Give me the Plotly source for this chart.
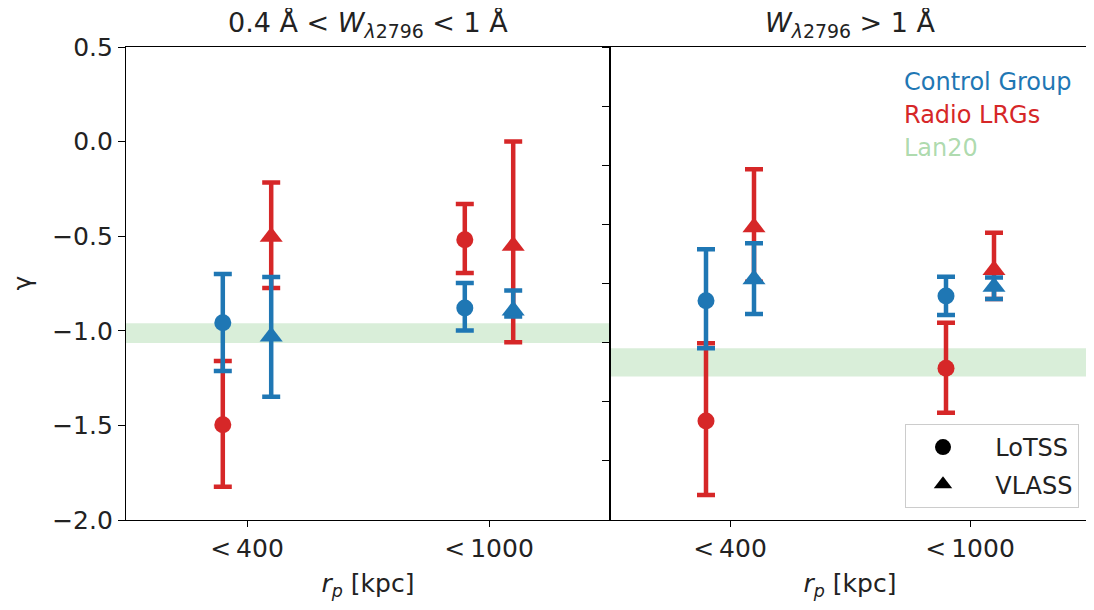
import numpy as np
import plotly.graph_objects as go

# ---------------- data ----------------
categories = ["<\u2009400", "<\u20091000"]  # r_p bins (tick labels)

# Left panel: 0.4 A < W < 1 A  (values, upper end, lower end)
left_ctrl_lotss = [-0.958, -0.880]
left_ctrl_lotss_hi = [-0.700, -0.748]
left_ctrl_lotss_lo = [-1.212, -0.999]
left_ctrl_vlass = [-1.030, -0.893]
left_ctrl_vlass_hi = [-0.716, -0.787]
left_ctrl_vlass_lo = [-1.348, -0.925]
left_radio_lotss = [-1.497, -0.519]
left_radio_lotss_hi = [-1.159, -0.330]
left_radio_lotss_lo = [-1.824, -0.695]
left_radio_vlass = [-0.503, -0.551]
left_radio_vlass_hi = [-0.216, 0.001]
left_radio_vlass_lo = [-0.774, -1.060]
left_lan20 = [-1.065, -0.960]

# Right panel: W > 1 A (own unlabeled y scale)
right_ctrl_lotss = [-0.645, -0.606]
right_ctrl_lotss_hi = [-0.211, -0.442]
right_ctrl_lotss_lo = [-1.048, -0.766]
right_ctrl_vlass = [-0.464, -0.527]
right_ctrl_vlass_hi = [-0.160, -0.450]
right_ctrl_vlass_lo = [-0.758, -0.631]
right_radio_lotss = [-1.663, -1.217]
right_radio_lotss_hi = [-1.006, -0.831]
right_radio_lotss_lo = [-2.289, -1.593]
right_radio_vlass = [-0.025, -0.386]
right_radio_vlass_hi = [0.466, -0.070]
right_radio_vlass_lo = [-0.485, -0.631]
right_lan20 = [-1.286, -1.048]

panel_titles = ["0.4 Å < <i>W</i><sub><i>λ</i>2796</sub> < 1 Å",
                "<i>W</i><sub><i>λ</i>2796</sub> > 1 Å"]

# ---------------- style ----------------
BLUE = "#1f77b4"
RED = "#d62728"
FONT = "DejaVu Sans"
FS = 25
OFFSET = 0.1

fig = go.Figure()
base_x = np.arange(len(categories))


def add_series(val, hi, lo, color, symbol, dx, xa, ya):
    val = np.array(val); hi = np.array(hi); lo = np.array(lo)
    fig.add_trace(go.Scatter(
        x=base_x + dx, y=val, mode="markers", xaxis=xa, yaxis=ya,
        marker=dict(color=color, symbol=symbol,
                    size=17 if symbol == "circle" else 20,
                    line=dict(width=0)),
        error_y=dict(type="data", symmetric=False, array=hi - val,
                     arrayminus=val - lo, color=color, thickness=4.5, width=9),
        showlegend=False, hoverinfo="skip"))


panels = [
    ("x", "y", left_ctrl_lotss, left_ctrl_lotss_hi, left_ctrl_lotss_lo,
     left_ctrl_vlass, left_ctrl_vlass_hi, left_ctrl_vlass_lo,
     left_radio_lotss, left_radio_lotss_hi, left_radio_lotss_lo,
     left_radio_vlass, left_radio_vlass_hi, left_radio_vlass_lo),
    ("x2", "y2", right_ctrl_lotss, right_ctrl_lotss_hi, right_ctrl_lotss_lo,
     right_ctrl_vlass, right_ctrl_vlass_hi, right_ctrl_vlass_lo,
     right_radio_lotss, right_radio_lotss_hi, right_radio_lotss_lo,
     right_radio_vlass, right_radio_vlass_hi, right_radio_vlass_lo),
]
for (xa, ya, cl, clh, cll, cv, cvh, cvl, rl, rlh, rll, rv, rvh, rvl) in panels:
    add_series(rl, rlh, rll, RED, "circle", -OFFSET, xa, ya)
    add_series(rv, rvh, rvl, RED, "triangle-up", OFFSET, xa, ya)
    add_series(cl, clh, cll, BLUE, "circle", -OFFSET, xa, ya)
    add_series(cv, cvh, cvl, BLUE, "triangle-up", OFFSET, xa, ya)

# legend entries for survey markers
fig.add_trace(go.Scatter(x=[None], y=[None], mode="markers", name="  LoTSS", legendgroup="a",
                         marker=dict(color="black", symbol="circle", size=17)))
fig.add_trace(go.Scatter(x=[None], y=[None], mode="markers", name="  VLASS", legendgroup="b",
                         marker=dict(color="black", symbol="triangle-up", size=20)))

# Lan20 bands
for (xr, yr, band) in [("x domain", "y", left_lan20), ("x2 domain", "y2", right_lan20)]:
    fig.add_shape(type="rect", xref=xr, yref=yr, x0=0, x1=1, y0=band[0], y1=band[1],
                  fillcolor="rgba(44,160,44,0.18)", line=dict(width=0), layer="below")

# page body adds an 8px offset; compensate
W, H = 1086, 602
L, T, R, B = 118, 39, 4, 90
plot_w = W - L - R
plot_h = H - T - B
split = 484 / plot_w

axis_common = dict(showline=True, mirror=True, linecolor="black", linewidth=1.2,
                   showgrid=False, zeroline=False, ticks="outside", tickcolor="black",
                   automargin=False,
                   tickfont=dict(family=FONT, size=FS, color="#222"))
xtitle = dict(text="<i>r</i><sub><i>p</i></sub> [kpc]", font=dict(family=FONT, size=FS, color="#222"),
              standoff=12)
fig.update_layout(
    width=W, height=H,
    margin=dict(l=L, r=R, t=T, b=B),
    paper_bgcolor="white", plot_bgcolor="white",
    font=dict(family=FONT, size=FS, color="#222"),
    xaxis=dict(domain=[0, split], range=[-0.5, 1.5], tickvals=list(base_x),
               ticktext=categories, anchor="y", ticklen=6, title=xtitle, **axis_common),
    xaxis2=dict(domain=[split, 1], range=[-0.5, 1.5], tickvals=list(base_x),
                ticktext=categories, anchor="y2", ticklen=6, title=xtitle, **axis_common),
    yaxis=dict(range=[-2.0, 0.5], dtick=0.5, tick0=0, tickformat=".1f", anchor="x",
               ticklen=7, **axis_common),
    yaxis2=dict(range=[-2.5, 1.5], dtick=0.5, tick0=0, showticklabels=False, anchor="x2",
                ticklen=7, **axis_common),
    legend=dict(x=(1079 - 126) / plot_w, xanchor="right", y=(520 - 508) / plot_h, yanchor="bottom",
                bgcolor="white", bordercolor="#cccccc", borderwidth=1, tracegroupgap=3,
                font=dict(family=FONT, size=FS - 1, color="#222"), itemwidth=64),
    showlegend=True,
)

# y-axis title
fig.add_annotation(text="γ", xref="paper", yref="paper", x=0, y=0.5, xshift=-104,
                   textangle=-90, showarrow=False, xanchor="center", yanchor="middle",
                   font=dict(family=FONT, size=FS, color="#222"))

# panel titles
for i, t in enumerate(panel_titles):
    fig.add_annotation(text=t, xref="x domain" if i == 0 else "x2 domain", yref="paper",
                       x=0.5, y=1, yanchor="bottom", yshift=3, showarrow=False,
                       font=dict(family=FONT, size=FS + 2, color="#222"))

# colored text legend
for txt, col, py in [("Control Group", BLUE, 82), ("Radio LRGs", RED, 115),
                     ("Lan20", "rgba(44,160,44,0.4)", 148)]:
    fig.add_annotation(text=txt, xref="paper", yref="paper", x=(902 - 126) / plot_w,
                       y=(520 - py) / plot_h, xanchor="left", yanchor="middle", showarrow=False,
                       font=dict(family=FONT, size=FS - 1, color=col))

fig.write_html("out.html")
